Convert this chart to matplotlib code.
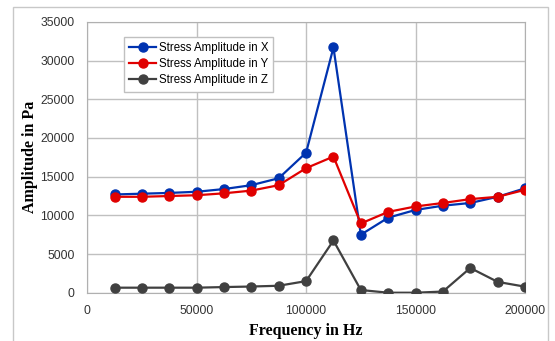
import matplotlib.pyplot as plt
from matplotlib.patches import Rectangle

freq = [12500, 25000, 37500, 50000, 62500, 75000, 87500, 100000,
        112500, 125000, 137500, 150000, 162500, 175000, 187500, 200000]
amp_x = [12700, 12800, 12900, 13050, 13400, 13900, 14800, 18100,
         31700, 7500, 9700, 10700, 11250, 11600, 12400, 13500]
amp_y = [12400, 12400, 12500, 12600, 12850, 13200, 13900, 16100,
         17600, 8950, 10450, 11150, 11600, 12100, 12400, 13300]
amp_z = [650, 650, 650, 650, 730, 800, 900, 1500,
         6750, 350, 0, 0, 150, 3200, 1400, 780]

plt.rcParams['font.family'] = 'Liberation Sans'

fig = plt.figure(figsize=(5.55, 3.41), dpi=100)
# outer chart frame
fig.patches.append(Rectangle((0.023, -0.01), 0.965, 0.99, transform=fig.transFigure,
                             fill=False, edgecolor='#c8c8c8', linewidth=1))
ax = fig.add_axes([0.157, 0.1416, 0.789, 0.794])

ax.plot(freq, amp_x, color='#0033b0', marker='o', markersize=6.5, linewidth=1.6,
        label='Stress Amplitude in X', zorder=3)
ax.plot(freq, amp_y, color='#e00000', marker='o', markersize=6.5, linewidth=1.6,
        label='Stress Amplitude in Y', zorder=4)
ax.plot(freq, amp_z, color='#404040', marker='o', markersize=6.5, linewidth=1.6,
        label='Stress Amplitude in Z', zorder=3)

ax.set_xlim(0, 200000)
ax.set_ylim(0, 35000)
ax.set_xticks([0, 50000, 100000, 150000, 200000])
ax.set_yticks(range(0, 35001, 5000))
ax.grid(True, color='#c0c0c0', linewidth=1)
ax.set_axisbelow(True)
for s in ax.spines.values():
    s.set_color('#b0b0b0')
ax.tick_params(length=0, labelsize=8.7, pad=9, colors='#333333')

ax.set_xlabel('Frequency in Hz', family='Liberation Serif', fontweight='bold',
              fontsize=11.5, labelpad=4)
ax.set_ylabel('Amplitude in Pa', family='Liberation Serif', fontweight='bold',
              fontsize=11.5)
ax.yaxis.set_label_coords(-0.112, 0.5)

ax.legend(loc='upper left', bbox_to_anchor=(0.07, 0.965), fontsize=8.3,
          frameon=True, fancybox=False, edgecolor='#c0c0c0', framealpha=1,
          handlelength=2.4, handletextpad=0.2, borderpad=0.45, labelspacing=0.35)

fig.savefig('out.png', dpi=100)
